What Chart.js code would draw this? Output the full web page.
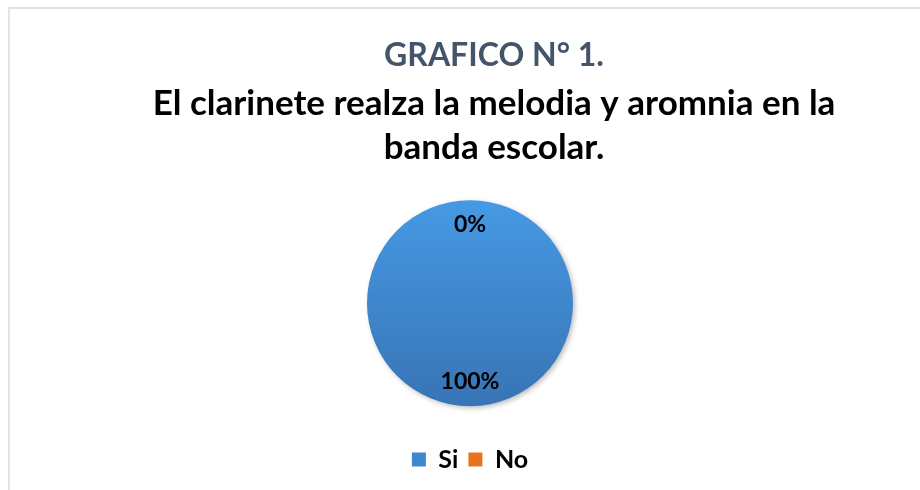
<!DOCTYPE html>
<html>
<head>
<meta charset="utf-8">
<script src="https://cdn.jsdelivr.net/npm/chart.js@4.4.1/dist/chart.umd.min.js"></script>
<style>
  html, body { margin: 0; padding: 0; background: #fff; overflow: hidden; }
  #frame {
    position: absolute; left: 8px; top: 7px; width: 1000px; height: 600px;
    border: 2px solid #dfe4ea;
  }
  #wrap { position: absolute; left: 0; top: 0; width: 920px; height: 490px; }
</style>
</head>
<body>
<div id="frame"></div>
<div id="wrap"><canvas id="pieChart" width="920" height="490"></canvas></div>
<script>
const categories = ['Si', 'No'];
const values = [100, 0];
const titleText = 'GRAFICO N° 1.';
const subtitleLines = ['El clarinete realza la melodia y aromnia en la', 'banda escolar.'];

const solidColors = ['#3f87cf', '#e8731f'];

const ctx = document.getElementById('pieChart').getContext('2d');

// vertical gradient over the pie, like the office chart
function sliceGradient(context) {
    const chart = context.chart;
    const area = chart.chartArea;
    if (!area) return solidColors[context.dataIndex];
    const mid = (area.top + area.bottom) / 2;
    const g = chart.ctx.createLinearGradient(0, mid - 103, 0, mid + 103);
    if (context.dataIndex === 0) {
        g.addColorStop(0, '#4699e4');
        g.addColorStop(1, '#3874b5');
    } else {
        g.addColorStop(0, '#f57d22');
        g.addColorStop(1, '#c95a10');
    }
    return g;
}

// title block sits a bit right of the pie in the original
const shiftTitles = {
    id: 'shiftTitles',
    afterLayout(chart) {
        chart.boxes.forEach(b => {
            if (b.position === 'top') {
                b.left += 24;
                b.right += 24;
            }
        });
    }
};

const pieShadow = {
    id: 'pieShadow',
    beforeDatasetsDraw(chart) {
        const c = chart.ctx;
        c.save();
        c.shadowColor = 'rgba(0,0,0,0.25)';
        c.shadowBlur = 5;
        c.shadowOffsetX = 2;
        c.shadowOffsetY = 2;
    },
    afterDatasetsDraw(chart) {
        chart.ctx.restore();
    }
};

const percentLabels = {
    id: 'percentLabels',
    afterDatasetsDraw(chart) {
        const c = chart.ctx;
        const meta = chart.getDatasetMeta(0);
        const total = values.reduce((a, b) => a + b, 0);
        c.save();
        c.font = 'bold 23px Lato';
        c.fillStyle = '#000';
        c.textAlign = 'center';
        c.textBaseline = 'middle';
        meta.data.forEach((arc, i) => {
            const p = arc.getProps(['x', 'y', 'startAngle', 'endAngle', 'outerRadius'], true);
            const mid = (p.startAngle + p.endAngle) / 2;
            const r = p.outerRadius * 0.76;
            const pct = Math.round(values[i] / total * 100) + '%';
            c.fillText(pct, p.x + Math.cos(mid) * r, p.y + Math.sin(mid) * r);
        });
        c.restore();
    }
};

const pieChart = new Chart(ctx, {
    type: 'pie',
    data: {
        labels: categories,
        datasets: [{
            data: values,
            backgroundColor: sliceGradient,
            borderWidth: 0,
            hoverOffset: 0
        }]
    },
    options: {
        responsive: false,
        animation: false,
        radius: 103,
        layout: {
            padding: { left: 20, right: 0, top: 0, bottom: 8 }
        },
        plugins: {
            title: {
                display: true,
                text: titleText,
                color: '#44546a',
                font: { family: 'Lato', size: 32, weight: 'bold', lineHeight: 1.2 },
                padding: { top: 36, bottom: 0 }
            },
            subtitle: {
                display: true,
                text: subtitleLines,
                color: '#000',
                font: { family: 'Lato', size: 35, weight: 'bold', lineHeight: 1.257 },
                padding: { top: 7, bottom: 0 }
            },
            legend: {
                position: 'bottom',
                labels: {
                    boxWidth: 14,
                    boxHeight: 14,
                    padding: 10,
                    color: '#000',
                    font: { family: 'Lato', size: 25, weight: 'bold' },
                    generateLabels(chart) {
                        return categories.map((name, i) => ({
                            text: name,
                            fillStyle: solidColors[i],
                            strokeStyle: solidColors[i],
                            lineWidth: 0,
                            hidden: false,
                            index: i
                        }));
                    }
                }
            },
            tooltip: { enabled: false }
        }
    },
    plugins: [shiftTitles, pieShadow, percentLabels]
});
</script>
</body>
</html>
